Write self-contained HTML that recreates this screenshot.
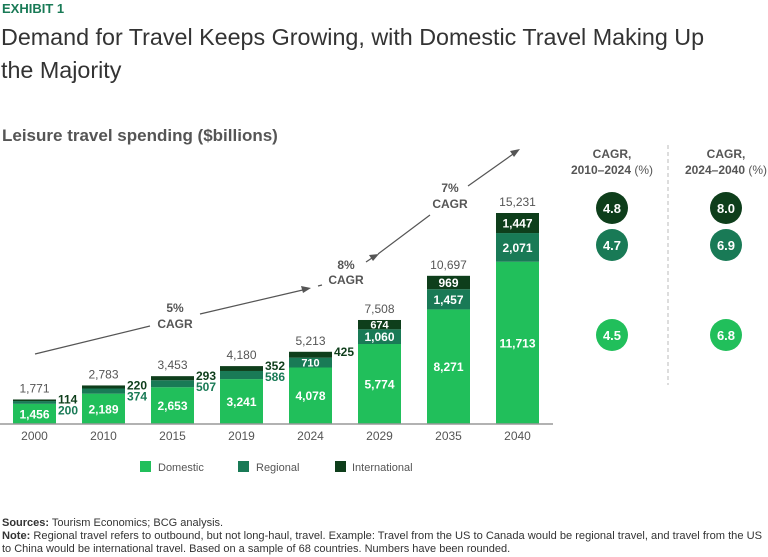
<!DOCTYPE html>
<html><head><meta charset="utf-8"><style>
body{margin:0;background:#fff;font-family:"Liberation Sans",sans-serif}
svg{display:block}
</style></head><body>
<svg id="chart" width="768" height="557" viewBox="0 0 768 557" xmlns="http://www.w3.org/2000/svg" font-family="Liberation Sans, sans-serif">
<text x="2" y="13" font-size="13" font-weight="bold" fill="#197A56">EXHIBIT 1</text>
<text x="1" y="45" font-size="23.3" fill="#333">Demand for Travel Keeps Growing, with Domestic Travel Making Up</text>
<text x="1" y="78" font-size="23.3" fill="#333">the Majority</text>
<text x="2" y="141" font-size="17" font-weight="bold" fill="#555">Leisure travel spending ($billions)</text>
<g id="bars"></g>
<line x1="0" y1="424" x2="553" y2="424" stroke="#999" stroke-width="1.5"/>
<g stroke="#555" stroke-width="1.2" fill="none">
<path d="M35,354 L150,326 M200,314 L307,289"/>
<path d="M318,286 L322,285 M366,262 L372,258"/>
<path d="M378,254 L430,215 M468,186 L516,152"/>
</g>
<g fill="#555">
<polygon points="311,288 301,286 303,293"/>
<polygon points="379,254 369,255 373,261"/>
<polygon points="520,149 510,151 514,157"/>
</g>
<g font-size="12" font-weight="bold" fill="#555" text-anchor="middle">
<text x="175" y="312">5%</text><text x="175" y="328">CAGR</text>
<text x="346" y="269">8%</text><text x="346" y="284">CAGR</text>
<text x="450" y="192">7%</text><text x="450" y="208">CAGR</text>
</g>
<g font-size="12" font-weight="bold" fill="#555" text-anchor="middle">
<text x="612" y="158">CAGR,</text><text x="612" y="174">2010–2024 <tspan font-weight="normal">(%)</tspan></text>
<text x="726" y="158">CAGR,</text><text x="726" y="174">2024–2040 <tspan font-weight="normal">(%)</tspan></text>
</g>
<line x1="668" y1="145" x2="668" y2="385" stroke="#bbb" stroke-dasharray="4,3"/>
<g id="circles"></g>
<g font-size="11" fill="#555">
<rect x="140" y="461" width="11" height="11" fill="#21BF5B"/>
<text x="158" y="471">Domestic</text>
<rect x="238" y="461" width="11" height="11" fill="#197A56"/>
<text x="256" y="471">Regional</text>
<rect x="335" y="461" width="11" height="11" fill="#0E3E1B"/>
<text x="352" y="471">International</text>
</g>
<g font-size="11" fill="#333">
<text x="2" y="526"><tspan font-weight="bold">Sources:</tspan> Tourism Economics; BCG analysis.</text>
<text x="2" y="539" textLength="760" lengthAdjust="spacingAndGlyphs"><tspan font-weight="bold">Note:</tspan> Regional travel refers to outbound, but not long-haul, travel. Example: Travel from the US to Canada would be regional travel, and travel from the US</text>
<text x="2" y="552">to China would be international travel. Based on a sample of 68 countries. Numbers have been rounded.</text>
</g>
</svg>
<script>
const categories=["2000","2010","2015","2019","2024","2029","2035","2040"];
const domestic=[1456,2189,2653,3241,4078,5774,8271,11713];
const regional=[200,374,507,586,710,1060,1457,2071];
const international=[114,220,293,352,425,674,969,1447];
const totals=["1,771","2,783","3,453","4,180","5,213","7,508","10,697","15,231"];
const cagrPast=[4.8,4.7,4.5];
const cagrFuture=[8.0,6.9,6.8];
const NS="http://www.w3.org/2000/svg";
const base=424,k=211/15231,bw=43;
const xc=i=>34.5+69*i;
const y=v=>base-v*k;
const fmt=v=>v.toLocaleString("en-US");
function mk(tag,attrs,parent,txt){const e=document.createElementNS(NS,tag);for(const a in attrs)e.setAttribute(a,attrs[a]);if(txt!==undefined)e.textContent=txt;parent.appendChild(e);return e;}
const g=document.getElementById("bars");
const colors=["#21BF5B","#197A56","#0E3E1B"];
const TH=9;
categories.forEach((c,i)=>{
  const segs=[domestic[i],regional[i],international[i]];
  let acc=0;const x0=xc(i)-bw/2;
  const names=["domestic","regional","international"];
  segs.forEach((v,j)=>{
    const r=mk("rect",{x:x0,y:y(acc+v),width:bw,height:v*k,fill:colors[j]},g);
    
    
    const h=v*k;
    if(h>=TH){
      const fs=h<13?11:12;
      const t=mk("text",{x:xc(i),y:y(acc+v/2)+fs*0.37,"font-size":fs,"font-weight":"bold",fill:"#fff","text-anchor":"middle"},g,fmt(v));
      
      
    }
    acc+=v;
  });
  const top=y(acc);
  if(international[i]*k<TH){
    const t=mk("text",{x:x0+bw+2,y:top+4,"font-size":12,"font-weight":"bold",fill:"#0E3E1B"},g,fmt(international[i]));
    
    
  }
  if(regional[i]*k<TH){
    const t=mk("text",{x:x0+bw+2,y:top+15,"font-size":12,"font-weight":"bold",fill:"#197A56"},g,fmt(regional[i]));
    
    
  }
  const tt=mk("text",{x:xc(i),y:top-7,"font-size":12,fill:"#555","text-anchor":"middle"},g,totals[i]);
  
  
  const xl=mk("text",{x:xc(i),y:base+16,"font-size":12,fill:"#555","text-anchor":"middle"},g,c);
  
  
});
const cg=document.getElementById("circles");
const cy=[208,245,335];const cc=["#0E3E1B","#197A56","#21BF5B"];
[[cagrPast,612,"past"],[cagrFuture,726,"future"]].forEach(([arr,cx,nm])=>{
  arr.forEach((v,j)=>{
    const ci=mk("circle",{cx:cx,cy:cy[j],r:16,fill:cc[j]},cg);
    
    
    const t=mk("text",{x:cx,y:cy[j]+5,"font-size":13,"font-weight":"bold",fill:"#fff","text-anchor":"middle"},cg,v.toFixed(1));
    
    
  });
});
</script>
</body></html>
